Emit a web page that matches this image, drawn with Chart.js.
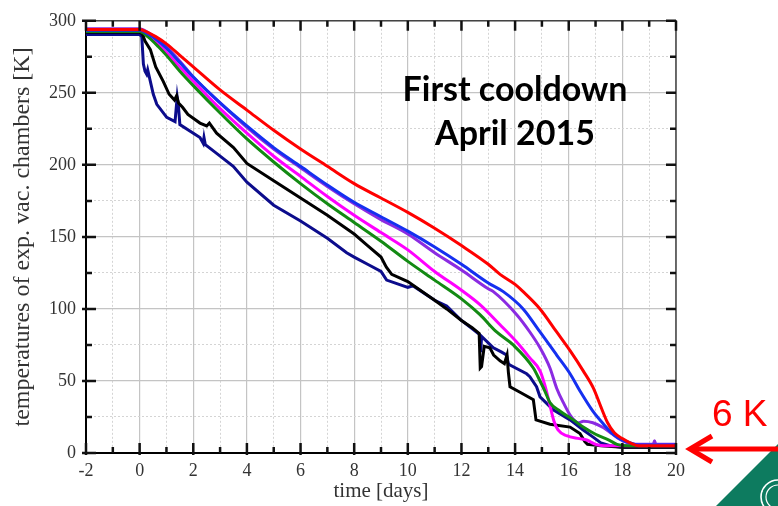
<!DOCTYPE html>
<html>
<head>
<meta charset="utf-8">
<script src="https://cdn.jsdelivr.net/npm/chart.js@4.4.0/dist/chart.umd.min.js"></script>
<style>
  html, body { margin: 0; padding: 0; background: #fff; }
  #wrap { position: relative; width: 778px; height: 506px; overflow: hidden; background: #fff; }
  #note { position: absolute; left: 365px; top: 66px; width: 300px; text-align: center;
          font: bold 34px Lato, "Liberation Sans", sans-serif; line-height: 44px; color: #000; }
  #sixk { position: absolute; left: 712px; top: 395px; font: 37px "Liberation Sans", sans-serif;
          line-height: 37px; color: #ff0000; white-space: nowrap; }
  #deco { position: absolute; left: 0; top: 0; }
</style>
</head>
<body>
<div id="wrap">
  <canvas id="cooldownChart" width="778" height="506"></canvas>
  <svg id="deco" width="778" height="506">
    <polygon points="716,506 779,443 779,506" fill="#0d7b5f"/>
    <circle cx="778" cy="497" r="17" fill="none" stroke="#fff" stroke-width="1.6"/>
    <circle cx="778" cy="497" r="12" fill="none" stroke="#fff" stroke-width="1.2"/>
    <line x1="692" y1="449" x2="778" y2="449" stroke="#ff0000" stroke-width="5"/>
    <polyline points="712,436 690,449 712,462" fill="none" stroke="#ff0000" stroke-width="5"/>
  </svg>
  <div id="note">First cooldown<br>April 2015</div>
  <div id="sixk">6 K</div>
</div>
<script>
// time axis ticks [days] and temperature ticks [K]
const xTicks = [-2, 0, 2, 4, 6, 8, 10, 12, 14, 16, 18, 20];
const yTicks = [0, 50, 100, 150, 200, 250, 300];

// red sensor
const redDays = [-2, 0, 0.3, 0.6, 1, 1.5, 2, 3, 4, 5, 6, 7, 8, 9, 10, 11, 12, 13, 13.44, 14, 14.3, 14.93, 15.55, 16.05, 16.54, 16.92, 17.2, 17.45, 17.7, 18, 18.35, 18.6, 20];
const redTemp = [294, 294, 292, 289, 284, 276, 268, 252, 238, 224, 211, 199, 187, 177, 167, 156, 144, 131, 124, 117, 112, 100, 84, 71, 57, 45, 32, 21, 14, 10, 6.5, 5, 5];

// blue sensor
const blueDays = [-2, 0, 0.3, 0.7, 1, 1.5, 2, 3, 4, 5, 6, 7, 8, 9, 10, 11, 12, 13, 13.56, 14.3, 14.93, 15.55, 16.05, 16.42, 16.9, 17.3, 17.66, 18, 18.3, 18.6, 20];
const blueTemp = [293.5, 293.5, 291, 286, 281, 271, 261, 243, 227, 212, 199, 186, 174, 164, 154, 143, 131, 118, 112, 100, 84, 68, 55, 43, 29, 20, 13, 9, 7, 5.5, 5.5];

// violet sensor
const violetDays = [-2, 0, 0.3, 0.7, 1, 1.5, 2, 3, 4, 5, 6, 7, 8, 9, 10, 11, 12, 13, 13.19, 14.06, 14.55, 14.93, 15.3, 15.55, 15.8, 16.1, 16.35, 16.55, 16.9, 17.3, 17.6, 17.9, 18.2, 18.5, 19.15, 19.2, 19.25, 20];
const violetTemp = [294.5, 294.5, 292, 287, 282, 272, 261, 243, 226, 211, 198, 185, 173, 162, 152, 139, 127, 114, 112, 96, 84, 73, 59, 45, 35, 25, 21, 22, 21, 17.5, 13.5, 9.5, 7, 6, 6, 8.5, 6, 6];

// magenta sensor
const magentaDays = [-2, 0, 0.3, 0.7, 1, 1.5, 2, 3, 4, 5, 6, 7, 8, 9, 10, 11, 12, 12.69, 13.44, 14.06, 14.55, 14.93, 15.11, 15.3, 15.45, 15.6, 15.92, 16.4, 16.67, 17, 17.5, 20];
const magentaTemp = [293, 293, 290, 284, 278, 268, 258, 239, 222, 206, 192, 178, 165, 153, 141, 126, 113, 103, 89, 77, 66, 57, 47, 33, 22, 16, 12, 10, 9, 6, 5, 5];

// green sensor
const greenDays = [-2, 0, 0.3, 0.7, 1, 1.5, 2, 3, 4, 5, 6, 7, 8, 9, 10, 11, 12, 12.69, 13.31, 13.93, 14.68, 14.93, 15.11, 15.3, 15.68, 16.17, 16.54, 17, 17.5, 17.8, 18.2, 20];
const greenTemp = [292.5, 292.5, 289, 282, 276, 265, 255, 236, 218, 202, 187, 173, 160, 147, 133, 120, 107, 96, 84, 75, 59, 50, 43, 35, 29, 23, 18, 13, 9, 6, 5, 5];

// black sensor
const blackDays = [-2, 0, 0.1, 0.2, 0.4, 0.6, 0.88, 1.1, 1.3, 1.38, 1.45, 1.6, 1.8, 2.25, 2.5, 2.6, 2.87, 3.5, 4, 5, 6, 7, 8, 8.5, 9, 9.2, 9.4, 10, 11, 11.45, 12, 12.4, 12.66, 12.7, 12.75, 12.85, 13.06, 13.2, 13.44, 13.6, 13.7, 13.75, 13.81, 14.2, 14.68, 14.78, 15.3, 16.05, 16.42, 16.6, 16.7, 17.2, 18, 20];
const blackTemp = [292, 292, 291, 286, 280, 268, 258, 249, 245, 248, 243, 240, 235, 229, 227, 229, 222, 212, 201, 189, 177, 165, 152, 144, 136, 129, 124, 119, 106, 100, 92, 87, 83, 59, 60, 74, 73, 68, 64, 62, 68, 56, 46, 42, 37, 23, 20, 18, 13.5, 8, 6, 5, 4, 4];

// navy sensor
const navyDays = [-2, 0, 0.08, 0.14, 0.2, 0.26, 0.3, 0.35, 0.51, 0.64, 1.01, 1.32, 1.4, 1.45, 1.5, 2.25, 2.37, 2.4, 2.45, 2.87, 3.49, 4, 5, 6, 7, 7.72, 8, 8.5, 9, 9.21, 10, 10.2, 11, 11.45, 12, 12.56, 12.69, 12.72, 12.75, 13.19, 13.5, 13.68, 13.75, 13.81, 14.43, 14.55, 14.8, 14.93, 15.42, 16.05, 16.54, 16.91, 17.2, 17.54, 18, 20];
const navyTemp = [290.5, 290.5, 289, 270, 265, 263, 266, 262, 249, 242, 233, 230, 247, 240, 228, 219, 215, 219, 214, 208, 199, 188, 172, 161, 149, 139, 136, 131, 126, 120, 115, 116, 106, 102, 92, 84, 82, 70, 81, 73, 70, 68, 62, 61, 55, 53, 46, 39, 30, 23, 16, 11, 7, 5, 4, 4];

function pts(days, temps) {
    return days.map((d, i) => ({ x: d, y: temps[i] }));
}

const serif = '"Liberation Serif", "Times New Roman", serif';

// frame on top/right and inward tick marks on all four sides
const frameTicks = {
    id: 'frameTicks',
    afterDraw(chart) {
        const c = chart.ctx;
        const a = chart.chartArea;
        const x = chart.scales.x, y = chart.scales.y;
        c.save();
        c.setLineDash([]);
        c.strokeStyle = '#444444';
        c.lineWidth = 1.5;
        c.beginPath();
        c.moveTo(a.left, a.top);
        c.lineTo(a.right, a.top);
        c.lineTo(a.right, a.bottom);
        c.stroke();
        c.strokeStyle = '#111111';
        c.lineWidth = 2.5;
        for (let d = -2; d <= 20; d++) {
            const px = x.getPixelForValue(d);
            const major = d % 2 === 0;
            const len = major ? 10 : 6;
            c.beginPath();
            c.moveTo(px, a.bottom + (major ? 2 : 0)); c.lineTo(px, a.bottom - len);
            c.moveTo(px, a.top); c.lineTo(px, a.top + len);
            c.stroke();
        }
        for (let k = 0; k <= 300; k += 25) {
            const py = y.getPixelForValue(k);
            const major = k % 50 === 0;
            const len = major ? 10 : 6;
            c.beginPath();
            c.moveTo(a.left - (major ? 4 : 0), py); c.lineTo(a.left + len, py);
            c.moveTo(a.right, py); c.lineTo(a.right - len, py);
            c.stroke();
        }
        c.restore();
    }
};

function line(label, days, temps, color, smooth) {
    return {
        label: label,
        data: pts(days, temps),
        borderColor: color,
        borderWidth: 3,
        pointRadius: 0,
        tension: 0,
        cubicInterpolationMode: smooth ? 'monotone' : 'default',
        fill: false
    };
}

const ctx = document.getElementById('cooldownChart').getContext('2d');

new Chart(ctx, {
    type: 'line',
    data: {
        datasets: [
            line('red', redDays, redTemp, '#ff0000', true),
            line('blue', blueDays, blueTemp, '#1530f0', true),
            line('green', greenDays, greenTemp, '#138a13', true),
            line('magenta', magentaDays, magentaTemp, '#ff00ff', true),
            line('black', blackDays, blackTemp, '#000000', false),
            line('navy', navyDays, navyTemp, '#0c0c8c', false),
            line('violet', violetDays, violetTemp, '#8b2be2', true)
        ]
    },
    options: {
        responsive: false,
        animation: false,
        devicePixelRatio: 1,
        layout: { padding: { top: 16, right: 102, left: 0, bottom: 0 } },
        plugins: { legend: { display: false }, tooltip: { enabled: false } },
        scales: {
            x: {
                type: 'linear',
                position: 'bottom',
                min: -2,
                max: 20,
                afterBuildTicks: s => { s.ticks = xTicks.map(v => ({ value: v })); },
                afterFit: s => { s.height = 53; },
                ticks: { color: '#333', padding: 7, font: { family: serif, size: 18 } },
                grid: { color: '#c4c4c4', lineWidth: 1.2, drawTicks: false },
                border: { display: true, color: '#000', width: 2 },
                title: { display: true, text: 'time [days]', color: '#333',
                         font: { family: serif, size: 21 }, padding: { top: 0, bottom: 2 } }
            },
            xMinor: {
                type: 'linear',
                position: 'bottom',
                min: -2,
                max: 20,
                ticks: { display: false, stepSize: 1 },
                afterFit: s => { s.height = 0; },
                grid: { drawTicks: false, lineWidth: 1,
                        color: c => (c.tick && c.tick.value % 2 === 0) ? 'rgba(0,0,0,0)' : '#d4d4d4' },
                border: { display: false, dash: [2, 2] }
            },
            y: {
                type: 'linear',
                position: 'left',
                min: 0,
                max: 300,
                afterBuildTicks: s => { s.ticks = yTicks.map(v => ({ value: v })); },
                afterFit: s => { s.width = 86; },
                ticks: { color: '#333', padding: 10, font: { family: serif, size: 18 } },
                grid: { color: '#c4c4c4', lineWidth: 1.2, drawTicks: false },
                border: { display: true, color: '#000', width: 2 },
                title: { display: true, text: 'temperatures of exp. vac. chambers [K]', color: '#333',
                         font: { family: serif, size: 24 }, padding: { top: 8, bottom: 0 } }
            },
            yMinor: {
                type: 'linear',
                position: 'left',
                min: 0,
                max: 300,
                ticks: { display: false, stepSize: 25 },
                afterFit: s => { s.width = 0; },
                grid: { drawTicks: false, lineWidth: 1,
                        color: c => (c.tick && c.tick.value % 50 === 0) ? 'rgba(0,0,0,0)' : '#d4d4d4' },
                border: { display: false, dash: [2, 2] }
            }
        }
    },
    plugins: [frameTicks]
});
</script>
</body>
</html>
